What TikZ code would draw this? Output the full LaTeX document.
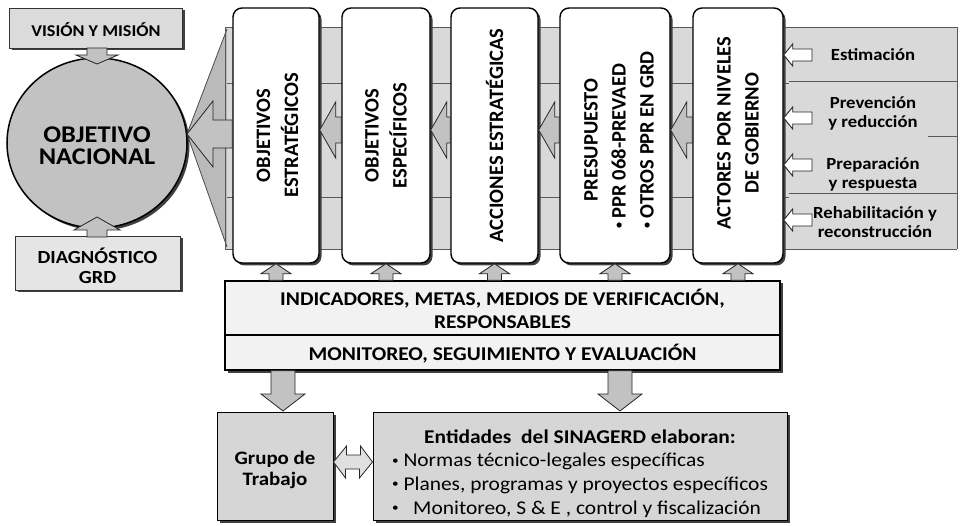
\documentclass[tikz,border=0pt]{standalone}
\usepackage{fontspec}
\setmainfont{Carlito}[FakeStretch=1.1]
\newfontfamily\vfont{Carlito}
\usetikzlibrary{calc,shadows,shapes.geometric}
\newcommand\sbul{\raisebox{0.3ex}{\fontsize{12}{12}\selectfont •}}

\tikzset{
  x=1pt,y=-1pt,
  shad/.style={drop shadow={shadow xshift=2.5pt,shadow yshift=-2.5pt,fill=black!75,opacity=1}},
  topbox/.style={draw=black!80,line width=0.8pt,fill=black!14,inner sep=0pt,shad},
  vbox/.style={draw=black,line width=1.4pt,fill=white,rounded corners=9pt,inner sep=0pt,
     minimum height=255pt,shad},
  vtxt/.style={rotate=90,font=\vfont\bfseries\fontsize{20.5}{28}\selectfont,align=center,inner sep=0pt,text=black},
  wbox/.style={draw=black,line width=1.3pt,fill=black!5,inner sep=0pt,shad},
  gbox/.style={draw=black,line width=1pt,fill=black!16,inner sep=0pt,shad},
  barrow/.style={draw=black!85,line width=0.8pt,fill=black!24,line join=miter},
  harrow/.style={draw=black!85,line width=0.9pt,fill=white},
  rtxt/.style={font=\bfseries\fontsize{17}{19}\selectfont,align=center,inner sep=0pt,text=black},
  sepline/.style={draw=black!65,line width=0.8pt},
}

% [style]{tail}{tip}{shaft half width}{head half width}{head length}
\newcommand\blockarr[6][]{%
  \coordinate (bac) at ($(#3)!#6!(#2)$);
  \draw[barrow,#1] ($(#2)!#4!90:(#3)$) -- ($(bac)!#4!90:(#3)$) -- ($(bac)!#5!90:(#3)$)
     -- (#3) -- ($(bac)!#5!-90:(#3)$) -- ($(bac)!#4!-90:(#3)$) -- ($(#2)!#4!-90:(#3)$) -- cycle;}

\begin{document}
\begin{tikzpicture}
\useasboundingbox (0,0) rectangle (960,526);

% background band
\fill[black!15] (225,27) rectangle (957,249);
\draw[sepline] (225,27) -- (957,27);
\draw[sepline] (225,249) -- (957,249);
\draw[sepline] (957,27) -- (957,249);
\draw[sepline] (225,83) -- (789,83);
\draw[sepline] (225,197) -- (789,197);
\draw[sepline] (789,81) -- (957,81);
\draw[sepline] (789,193) -- (957,193);
\draw[sepline] (928,136) -- (957,136);

% funnel
\fill[black!27] (187,134) -- (227,29) -- (227,247) -- cycle;
\draw[black!70,line width=0.8pt] (227,29) -- (187,134) -- (227,247);
\draw[sepline] (225,27) -- (225,249);

% left column
\node[topbox,minimum width=173pt,minimum height=40pt] (vis) at (96,28) {};
\node[font=\bfseries\fontsize{16.5}{18}\selectfont,text=black] (vist) at (96,30) {VISIÓN Y MISIÓN};
\node[draw=black,line width=1.5pt,fill=black!24,ellipse,minimum width=180pt,minimum height=170pt,inner sep=0pt,shad] (circ) at (97,143) {};
\node[font=\bfseries\fontsize{24}{22}\selectfont,align=center,text=black] (circt) at (97,146) {OBJETIVO\\NACIONAL};
\node[topbox,fill=black!10,minimum width=165pt,minimum height=54pt] (diag) at (97.5,263) {};
\node[font=\bfseries\fontsize{18.5}{20}\selectfont,align=center,text=black] (diagt) at (97.5,266) {DIAGNÓSTICO\\GRD};

% vertical boxes
\node[vbox,minimum width=86pt] (os) at (276,135.5) {};
\node[vbox,minimum width=88pt] (oe) at (386,135.5) {};
\node[vbox,minimum width=87pt] (ae) at (494.5,135.5) {};
\node[vbox,minimum width=110pt] (pr) at (615,135.5) {};
\node[vbox,minimum width=90pt] (ac) at (738,135.5) {};
\node[vtxt] (ost) at (277.5,135.5) {OBJETIVOS\\ESTRATÉGICOS};
\node[vtxt] (oet) at (386,135.5) {OBJETIVOS\\ESPECÍFICOS};
\node[vtxt] (aet) at (494.5,135.5) {ACCIONES ESTRATÉGICAS};
\node[vtxt] (prt) at (620,140) {\begin{tabular}{@{}l@{}}\multicolumn{1}{@{}c@{}}{PRESUPUESTO}\\ \sbul\ PPR 068-PREVAED\\ \sbul\ OTROS PPR EN GRD\end{tabular}};
\node[vtxt] (act) at (738,133) {ACTORES POR NIVELES\\DE GOBIERNO};

% right panel texts
\node[rtxt] (est) at (873,55) {Estimación};
\node[rtxt] (prev) at (873,113) {Prevención\\y reducción};
\node[rtxt] (prep) at (873,174) {Preparación\\y respuesta};
\node[rtxt] (reh) at (875,222) {Rehabilitación y\\reconstrucción};

% indicator and monitoring boxes
\node[wbox,minimum width=555pt,minimum height=54pt] (ind) at (502.5,308) {};
\node[wbox,minimum width=555pt,minimum height=35pt] (mon) at (502.5,352.5) {};
\node[font=\bfseries\fontsize{19.5}{23}\selectfont,align=center,text=black] (indt) at (502.5,309) {INDICADORES, METAS, MEDIOS DE VERIFICACIÓN,\\RESPONSABLES};
\node[font=\bfseries\fontsize{19.5}{22}\selectfont,text=black] (mont) at (502.5,354) {MONITOREO, SEGUIMIENTO Y EVALUACIÓN};

% bottom boxes
\node[gbox,minimum width=116pt,minimum height=108pt] (grp) at (275,466) {};
\node[font=\bfseries\fontsize{19}{21.5}\selectfont,align=center,text=black] (grpt) at (275,470) {Grupo de\\Trabajo};
\node[gbox,minimum width=414pt,minimum height=108pt] (ent) at (580,466) {};
\node[inner sep=0pt,text=black] (entt) at (580,474) {\fontsize{19.5}{23.7}\selectfont
  \begin{tabular}{@{}l@{}}\multicolumn{1}{@{}c@{}}{\bfseries Entidades\ \ del SINAGERD elaboran:}\\
  \sbul\ Normas técnico-legales específicas\\
  \sbul\ Planes, programas y proyectos específicos\\
  \sbul\ \ \ Monitoreo, S \& E , control y fiscalización\end{tabular}};

% arrows to objetivo nacional
\coordinate (visb) at (97,48);
\coordinate (circtop) at (97,64);
\blockarr{visb}{circtop}{10pt}{21pt}{9pt}
\coordinate (diagtop) at (97,237);
\coordinate (circbot) at (97,217);
\blockarr{diagtop}{circbot}{10pt}{23pt}{13pt}
\coordinate (y134) at (0,134);
\coordinate (y130) at (0,130);
\coordinate (osw) at (os.west |- y134);
\coordinate (circe) at (187,134);
\blockarr{osw}{circe}{14pt}{33pt}{26pt}

% arrows between vertical boxes
\coordinate (a1t) at (oe.west |- y130); \coordinate (a1h) at (os.east |- y130);
\coordinate (a2t) at (ae.west |- y130); \coordinate (a2h) at (oe.east |- y130);
\coordinate (a3t) at (pr.west |- y130); \coordinate (a3h) at (ae.east |- y130);
\coordinate (a4t) at (ac.west |- y130); \coordinate (a4h) at (pr.east |- y130);
\blockarr{a1t}{a1h}{13pt}{28pt}{16pt}
\blockarr{a2t}{a2h}{13pt}{28pt}{16pt}
\blockarr{a3t}{a3h}{13pt}{28pt}{16pt}
\blockarr{a4t}{a4h}{13pt}{28pt}{16pt}

% arrows from right panel to actors
\foreach \nm/\yy in {est/55,prev/118,prep/165,reh/220}{
  \coordinate (\nm-y) at (0,\yy);
  \coordinate (\nm-t) at (812,\yy);
  \coordinate (\nm-h) at (ac.east |- \nm-y);
  \blockarr[harrow]{\nm-t}{\nm-h}{6pt}{11pt}{9pt}
}

% up arrows from indicators
\foreach \bx in {os,oe,ae,pr,ac}{
  \coordinate (\bx-u) at (\bx.south |- ind.north);
  \blockarr{\bx-u}{\bx.south}{7pt}{15pt}{10pt}
}

% down arrows from monitoring
\coordinate (gtop) at (283,411);
\coordinate (gtail) at (mon.south -| gtop);
\blockarr{gtail}{gtop}{12pt}{22pt}{17pt}
\coordinate (etop) at (620,411);
\coordinate (etail) at (mon.south -| etop);
\blockarr{etail}{etop}{12pt}{22pt}{17pt}

% double arrow
\coordinate (y462) at (0,462);
\coordinate (dl) at (grp.east |- y462);
\coordinate (dr) at (ent.west |- y462);
\draw[barrow,fill=black!12] (dl) -- ++(13,-16) -- ++(0,9) -- ++(14,0) -- ++(0,-9) -- (dr)
  -- ++(-13,16) -- ++(0,-9) -- ++(-14,0) -- ++(0,9) -- cycle;
\end{tikzpicture}
\end{document}
